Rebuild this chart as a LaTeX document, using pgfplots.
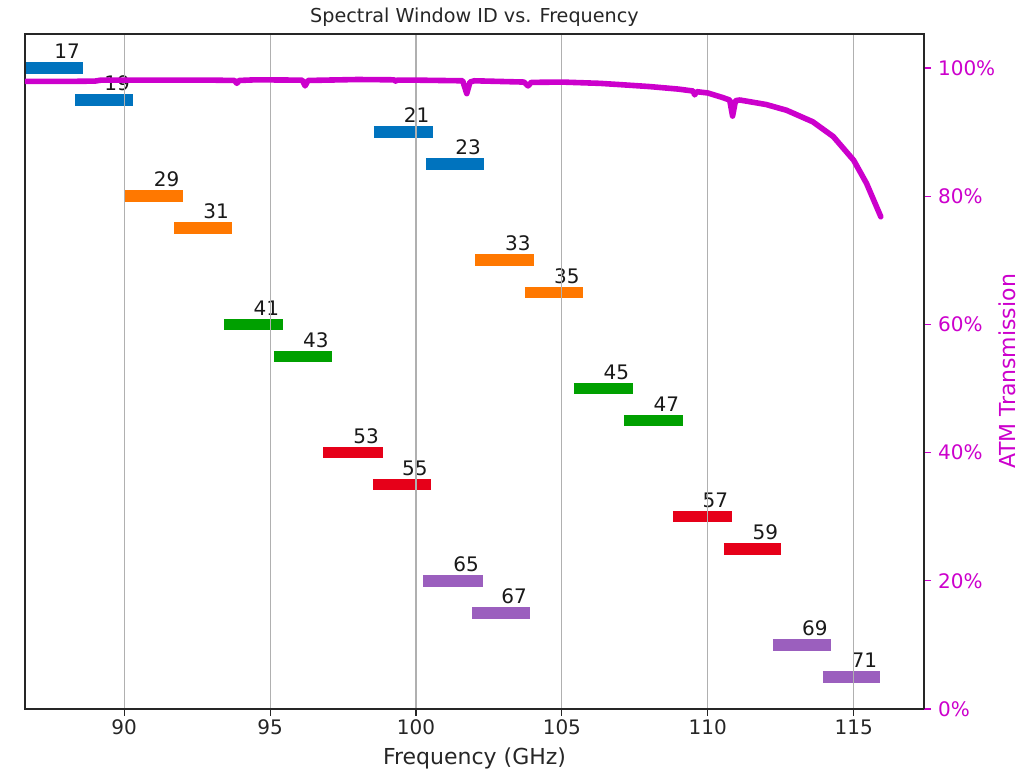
\documentclass[border=0pt]{standalone}
\usepackage{fontspec}
\setmainfont{DejaVu Sans}
\usepackage{pgfplots}
\pgfplotsset{compat=1.18}
\definecolor{cblue}{RGB}{0,115,190}
\definecolor{corange}{RGB}{255,120,0}
\definecolor{cgreen}{RGB}{0,160,0}
\definecolor{cred}{RGB}{230,0,25}
\definecolor{cpurple}{RGB}{155,95,190}
\definecolor{cmag}{RGB}{204,0,204}
\definecolor{cgrid}{RGB}{176,176,176}
\tikzset{bl/.style={anchor=base west, inner sep=0pt, font=\fontsize{10}{12}\selectfont, text=black!90}}
\begin{document}
\begin{tikzpicture}
\begin{axis}[
  name=main,
  scale only axis, width=449.5pt, height=337.5pt,
  xmin=86.6, xmax=117.41, ymin=0, ymax=105.3,
  xtick={90,95,100,105,110,115}, ytick=\empty,
  xtick pos=left,
  xmajorgrids, grid style={cgrid, line width=0.6pt},
  axis on top,
  tick align=outside, major tick length=3.5pt,
  xtick style={black!85, line width=0.6pt},
  ticklabel style={font=\fontsize{10}{12}\selectfont, text=black!85},
  xticklabel style={yshift=1.5pt},
  /pgf/number format/assume math mode=true,
  xlabel={Frequency (GHz)},
  xlabel style={font=\fontsize{11}{13}\selectfont, text=black!85, yshift=0.5pt},
  title={Spectral Window ID vs. Frequency},
  title style={font=\fontsize{9.6}{11}\selectfont, text=black!85, yshift=-6pt},
  axis line style={black!85, line width=0.7pt},
  every axis plot/.append style={line cap=butt, line width=5.8pt, forget plot},
]
% spectral windows: (start,y) (end,y)
\addplot[cblue]   coordinates {(86.60,100) (88.58,100)};
\addplot[cblue]   coordinates {(88.32,95) (90.30,95)};
\addplot[cblue]   coordinates {(98.56,90) (100.58,90)};
\addplot[cblue]   coordinates {(100.34,85) (102.33,85)};
\addplot[corange] coordinates {(89.99,80) (92.02,80)};
\addplot[corange] coordinates {(91.71,75) (93.69,75)};
\addplot[corange] coordinates {(102.03,70) (104.05,70)};
\addplot[corange] coordinates {(103.73,65) (105.72,65)};
\addplot[cgreen]  coordinates {(93.42,60) (95.43,60)};
\addplot[cgreen]  coordinates {(95.13,55) (97.12,55)};
\addplot[cgreen]  coordinates {(105.41,50) (107.43,50)};
\addplot[cgreen]  coordinates {(107.12,45) (109.14,45)};
\addplot[cred]    coordinates {(96.82,40) (98.86,40)};
\addplot[cred]    coordinates {(98.52,35) (100.51,35)};
\addplot[cred]    coordinates {(108.80,30) (110.82,30)};
\addplot[cred]    coordinates {(110.55,25) (112.50,25)};
\addplot[cpurple] coordinates {(100.25,20) (102.30,20)};
\addplot[cpurple] coordinates {(101.92,15) (103.90,15)};
\addplot[cpurple] coordinates {(112.23,10) (114.22,10)};
\addplot[cpurple] coordinates {(113.94,5) (115.90,5)};
\node[bl] at (axis cs:87.59,101.45) {17};
\node[bl] at (axis cs:89.31,96.45) {19};
\node[bl] at (axis cs:99.57,91.45) {21};
\node[bl] at (axis cs:101.34,86.45) {23};
\node[bl] at (axis cs:91.00,81.45) {29};
\node[bl] at (axis cs:92.70,76.45) {31};
\node[bl] at (axis cs:103.04,71.45) {33};
\node[bl] at (axis cs:104.72,66.45) {35};
\node[bl] at (axis cs:94.42,61.45) {41};
\node[bl] at (axis cs:96.12,56.45) {43};
\node[bl] at (axis cs:106.42,51.45) {45};
\node[bl] at (axis cs:108.13,46.45) {47};
\node[bl] at (axis cs:97.84,41.45) {53};
\node[bl] at (axis cs:99.51,36.45) {55};
\node[bl] at (axis cs:109.81,31.45) {57};
\node[bl] at (axis cs:111.52,26.45) {59};
\node[bl] at (axis cs:101.27,21.45) {65};
\node[bl] at (axis cs:102.91,16.45) {67};
\node[bl] at (axis cs:113.22,11.45) {69};
\node[bl] at (axis cs:114.92,6.45) {71};
\end{axis}
\begin{axis}[
  scale only axis, width=449.5pt, height=337.5pt,
  xmin=86.6, xmax=117.41, ymin=0, ymax=105.3,
  axis x line=none,
  axis y line*=right,
  ytick={0,20,40,60,80,100},
  yticklabel={\pgfmathprintnumber{\tick}\%},
  /pgf/number format/assume math mode=true,
  tick align=outside, major tick length=3.5pt,
  ytick style={cmag, line width=0.6pt},
  yticklabel style={font=\fontsize{10}{12}\selectfont, text=cmag},
  axis line style={black!85, line width=0.7pt},
  ylabel={ATM Transmission},
  ylabel shift=-5pt,
  ylabel style={font=\fontsize{11}{13}\selectfont, text=cmag},
]
\addplot[cmag, line width=2.8pt, line cap=round, line join=round, mark=none] coordinates {
(86.62,97.9) (88.0,97.9) (89.0,97.95) (89.2,98.1) (91.0,98.1) (93.0,98.1)
(93.78,98.05) (93.86,97.6) (93.94,98.05) (94.5,98.15) (96.1,98.1) (96.2,97.2)
(96.3,98.05) (98.0,98.2) (99.25,98.15) (99.3,97.95) (99.35,98.1) (100.0,98.1)
(101.6,98.0) (101.74,96.0) (101.85,97.8) (102.0,98.0) (103.7,97.8) (103.84,97.2)
(103.95,97.75) (105.0,97.8) (106.3,97.6) (107.0,97.4) (108.0,97.1) (109.0,96.7)
(109.5,96.4) (109.55,95.8) (109.62,96.3) (110.0,96.1) (110.5,95.4) (110.75,95.0)
(110.85,92.5) (110.95,94.9) (111.1,95.0) (112.0,94.3) (112.7,93.4) (113.6,91.6)
(114.3,89.3) (115.0,85.6) (115.44,82.0) (115.93,76.8)
};
\end{axis}
\path ([shift={(-12.5pt,-31pt)}]main.south west) rectangle ([shift={(55.5pt,17pt)}]main.north east);
\end{tikzpicture}
\end{document}
